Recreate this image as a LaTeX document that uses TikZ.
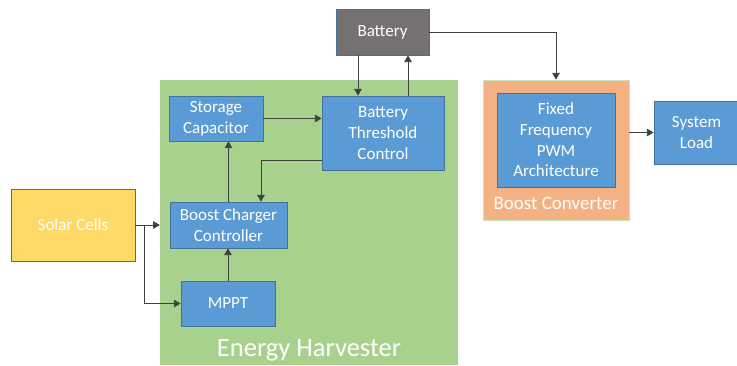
\documentclass[tikz,border=0pt]{standalone}
\usepackage{fontspec}
\setmainfont{Carlito}
\usetikzlibrary{shapes,arrows}
\definecolor{blkblue}{HTML}{5B9BD5}
\definecolor{blkedge}{HTML}{41719C}
\definecolor{harvgreen}{HTML}{A9D18E}
\definecolor{convorange}{HTML}{F4B183}
\definecolor{solaryellow}{HTML}{FFD966}
\definecolor{battgray}{HTML}{767171}
\definecolor{wirecol}{HTML}{404040}

\tikzset{
  blk/.style={draw=blkedge, fill=blkblue, text=white, line width=0.8pt,
    align=center, inner sep=0pt, font=\fontsize{17}{20.7}\selectfont},
  grp/.style={inner sep=0pt},
  arr/.style={-triangle 60, draw=wirecol, line width=0.8pt},
}

\begin{document}
\begin{tikzpicture}[x=1pt,y=-1pt]
\useasboundingbox (0,0) rectangle (737,365);

% groups
\node[grp, fill=harvgreen, minimum width=298pt, minimum height=285pt] (harv) at (309,222.5) {};
\node[text=white, font=\fontsize{26.5}{30}\selectfont] (harvlbl) at (309,350) {Energy Harvester};

\node[grp, fill=convorange, draw=harvgreen!60!white, line width=0.8pt, minimum width=146pt, minimum height=140pt] (boost) at (556,150) {};
\node[text=white, font=\fontsize{19}{22}\selectfont] (boostlbl) at (556,203) {Boost Converter};

% blocks
\node[blk, fill=battgray, minimum width=93pt, minimum height=46pt] (batt) at (382.5,32) {Battery};
\node[blk, fill=solaryellow, minimum width=124pt, minimum height=72pt] (solar) at (73,225) {Solar Cells};
\node[blk, minimum width=94pt, minimum height=45pt] (stor) at (216,118.5) {Storage\\Capacitor};
\node[blk, minimum width=122pt, minimum height=74pt] (btc) at (383,133) {Battery\\Threshold\\Control};
\node[blk, minimum width=117pt, minimum height=46pt] (bcc) at (228.5,225) {Boost Charger\\Controller};
\node[blk, minimum width=94pt, minimum height=45pt] (mppt) at (228,303.5) {MPPT};
\node[blk, minimum width=118pt, minimum height=94pt] (pwm) at (556,140) {Fixed\\Frequency\\PWM\\Architecture};
\node[blk, minimum width=85pt, minimum height=63pt] (load) at (696.5,132.5) {System\\Load};

% connectors
\draw[arr] (batt.south -| 358,0) -- (btc.north -| 358,0);
\draw[arr] (btc.north -| 408,0) -- (batt.south -| 408,0);
\draw[arr] (stor.east) -- (stor.east -| btc.west);
\draw[arr] (btc.west |- 0,160) -| (bcc.north -| 261,0);
\draw[arr] (bcc.north) -- (bcc.north |- stor.south);
\draw[arr] (mppt.north) -- (mppt.north |- bcc.south);
\draw[arr] (solar.east) -- (harv.west |- solar.east);
\draw[arr] (solar.east -| 144,0) |- (mppt.west);
\draw[arr] (batt.east) -| (boost.north);
\draw[arr] (boost.east |- load.west) -- (load.west);

\end{tikzpicture}
\end{document}
